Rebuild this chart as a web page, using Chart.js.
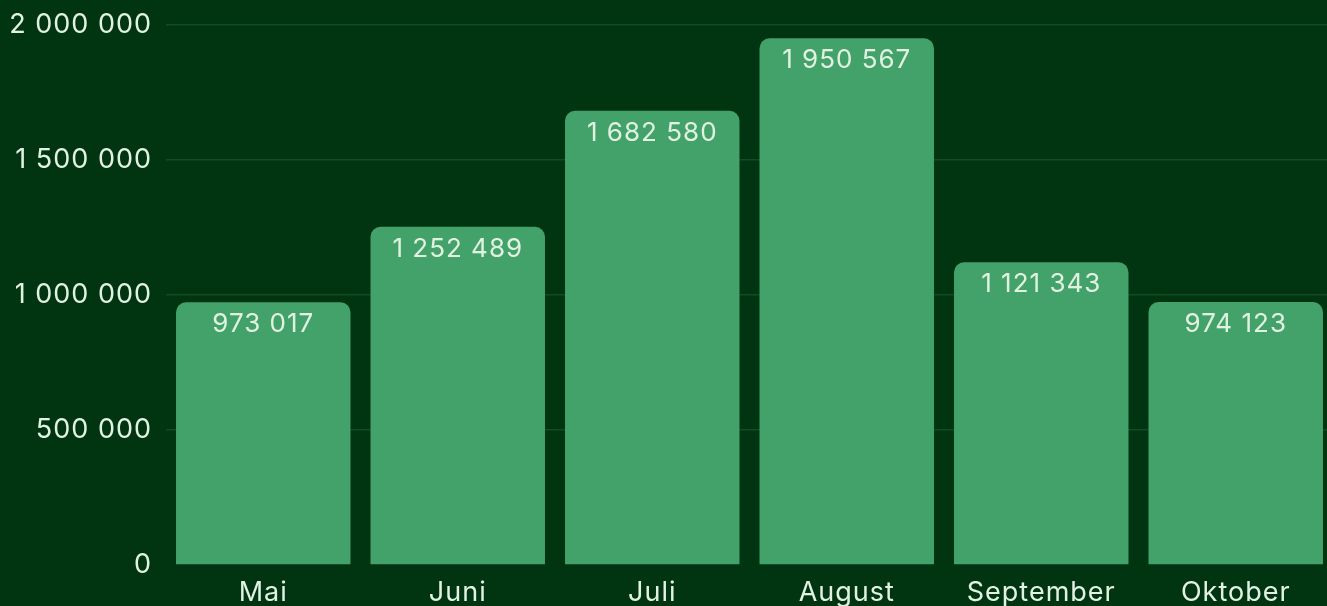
<!DOCTYPE html>
<html>
<head>
<meta charset="utf-8">
<script src="https://cdn.jsdelivr.net/npm/chart.js@4"></script>
<style>
html,body{margin:0;padding:0;background:#013512;overflow:hidden;}
#wrap{position:absolute;left:0;top:0;width:1333px;height:606px;}
</style>
</head>
<body>
<div id="wrap"><canvas id="c"></canvas></div>
<script>
const categories = ["Mai", "Juni", "Juli", "August", "September", "Oktober"];
const visitors = [973017, 1252489, 1682580, 1950567, 1121343, 974123];
const yTicks = [0, 500000, 1000000, 1500000, 2000000];

const TEXT = '#e2f2e2';
const FONT = 'Inter';

function fmt(v) {
  return String(Math.round(v)).replace(/\B(?=(\d{3})+(?!\d))/g, ' ');
}

const spacing = {
  id: 'spacing',
  beforeDraw(chart) { chart.ctx.letterSpacing = '1px'; }
};

const valueLabels = {
  id: 'valueLabels',
  afterDatasetsDraw(chart) {
    const ctx = chart.ctx;
    const meta = chart.getDatasetMeta(0);
    ctx.save();
    ctx.letterSpacing = '1px';
    ctx.fillStyle = TEXT;
    ctx.font = '26px ' + FONT;
    ctx.textAlign = 'center';
    ctx.textBaseline = 'top';
    meta.data.forEach((bar, i) => {
      ctx.fillText(fmt(chart.data.datasets[0].data[i]), bar.x, bar.y + 9);
    });
    ctx.restore();
  }
};

new Chart(document.getElementById('c'), {
  type: 'bar',
  data: {
    labels: categories,
    datasets: [{
      data: visitors,
      backgroundColor: '#43a26a',
      borderRadius: {topLeft: 10, topRight: 10, bottomLeft: 0, bottomRight: 0},
      borderSkipped: 'start',
      categoryPercentage: 1,
      barPercentage: 0.897
    }]
  },
  options: {
    responsive: true,
    maintainAspectRatio: false,
    animation: false,
    layout: {padding: {top: 25, right: 0, bottom: 0, left: 0}},
    plugins: {legend: {display: false}, tooltip: {enabled: false}},
    scales: {
      x: {
        grid: {display: false, drawTicks: false},
        border: {display: false},
        ticks: {color: TEXT, font: {family: FONT, size: 27}, padding: 12},
        afterFit(s) { s.height = 41; s.paddingLeft = 0; s.paddingRight = 0; }
      },
      y: {
        min: 0, max: 2000000,
        afterBuildTicks(s) { s.ticks = yTicks.map(v => ({value: v})); },
        grid: {
          drawTicks: false,
          color: (c) => c.tick && c.tick.value === 0 ? 'rgba(0,0,0,0)' : 'rgba(120,190,130,0.16)',
          lineWidth: 1.5
        },
        border: {display: false},
        ticks: {
          color: TEXT,
          font: {family: FONT, size: 27},
          padding: 14,
          callback: (v) => fmt(v)
        },
        afterFit(s) { s.width = 166; s.paddingTop = 0; s.paddingBottom = 0; }
      }
    }
  },
  plugins: [spacing, valueLabels]
});
</script>
</body>
</html>
